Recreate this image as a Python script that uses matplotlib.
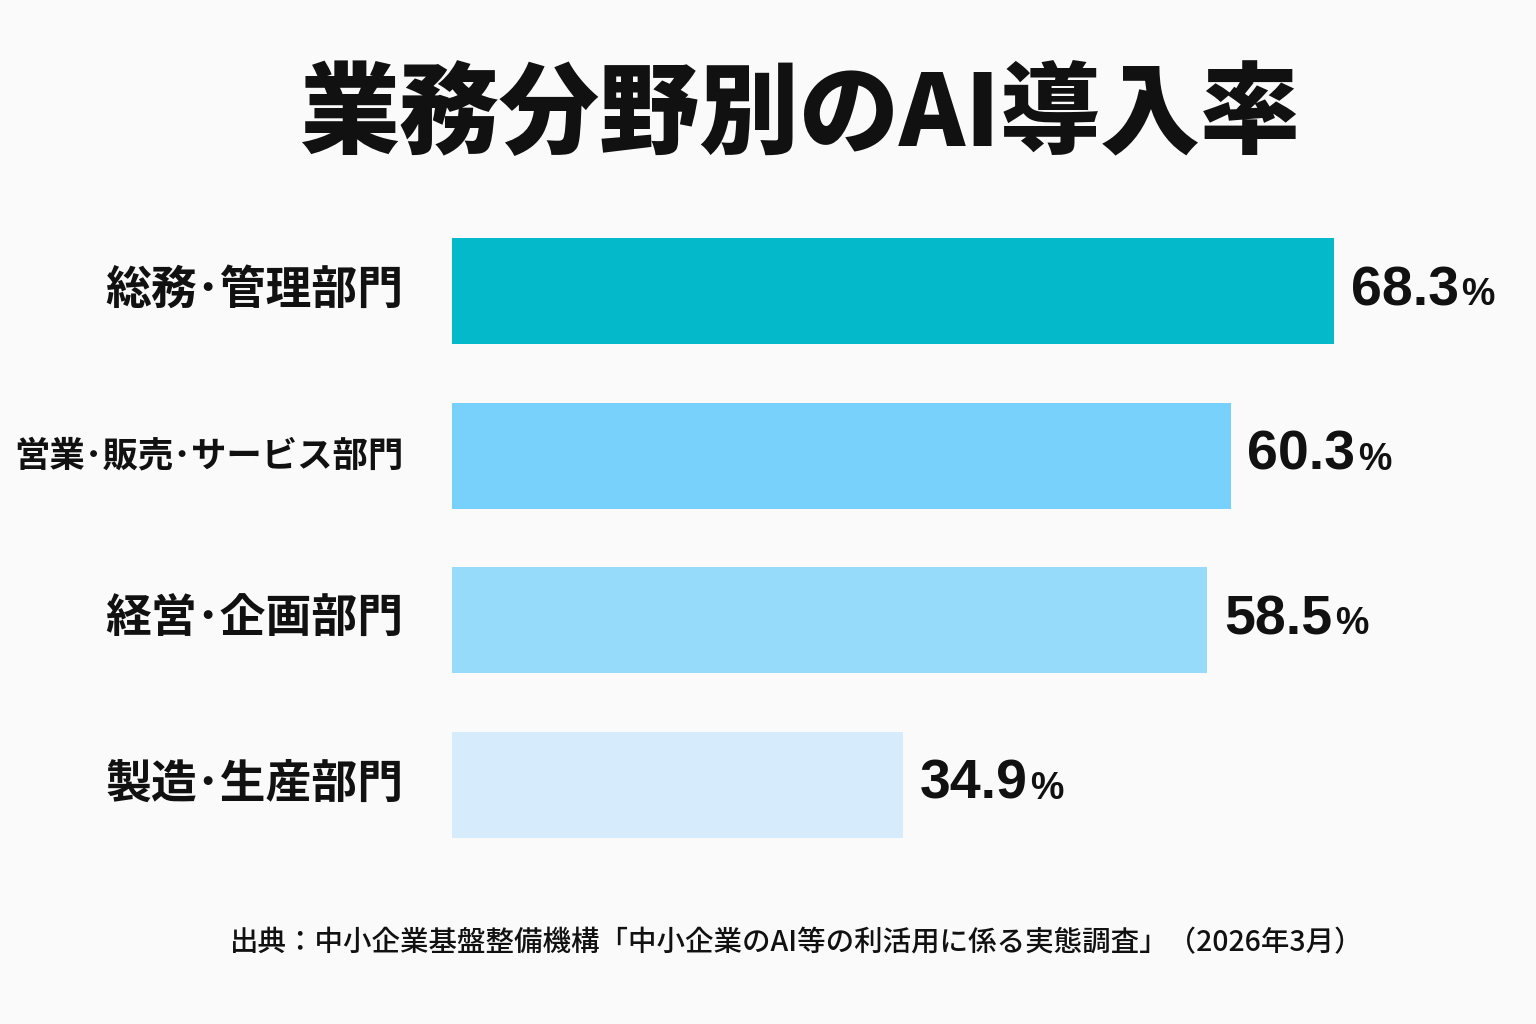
import matplotlib
matplotlib.use('Agg')
import matplotlib.pyplot as plt

plt.rcParams['font.family'] = ['Noto Sans CJK JP', 'DejaVu Sans']

# data
departments = ['総務･管理部門', '営業･販売･サービス部門', '経営･企画部門', '製造･生産部門']
rates = [68.3, 60.3, 58.5, 34.9]
bar_colors = ['#04B9C9', '#77D1FA', '#96DBFA', '#D6EBFB']
title = '業務分野別のAI導入率'
source = '出典：中小企業基盤整備機構「中小企業のAI等の利活用に係る実態調査」（2026年3月）'

bg = '#FAFAFA'
fig = plt.figure(figsize=(15.36, 10.24), dpi=100, facecolor=bg)
ax = fig.add_axes([452 / 1536, 1 - 867 / 1024, 1033 / 1536, 658 / 1024])
ax.set_facecolor(bg)

ypos = list(range(len(departments)))
ax.barh(ypos, rates, height=0.645, color=bar_colors, left=0)
ax.set_xlim(0, 80)
ax.set_ylim(len(departments) - 0.5, -0.5)
ax.axis('off')

# category labels on the left (long one gets squeezed down)
for y, name in zip(ypos, departments):
    size = 33 if len(name) <= 7 else 25.5
    ax.annotate(name, xy=(0, y), xycoords=('axes fraction', 'data'),
                xytext=(-35, 0), textcoords='offset points',
                ha='right', va='center', fontsize=size, fontweight='bold',
                color='#111111')

# value labels: big number + smaller %
for y, v in zip(ypos, rates):
    t = ax.annotate(f'{v:.1f}', xy=(v, y), xytext=(12, 0),
                    textcoords='offset points', ha='left', va='center',
                    fontsize=40, fontweight='bold', color='#111111',
                    family=['Liberation Sans', 'DejaVu Sans'])
    ax.annotate('%', xy=(1, 0), xycoords=t, xytext=(2, 3),
                textcoords='offset points', ha='left', va='bottom',
                fontsize=27, fontweight='bold', color='#111111',
                family=['Liberation Sans', 'DejaVu Sans'])

fig.text(800 / 1536, 1 - 116 / 1024, title, ha='center', va='center',
         fontsize=72, fontweight='black', color='#111111')
fig.text(797 / 1536, 1 - 943 / 1024, source, ha='center', va='center',
         fontsize=20.5, fontweight='medium', color='#111111')

fig.savefig('out.png', dpi=100, facecolor=bg)
